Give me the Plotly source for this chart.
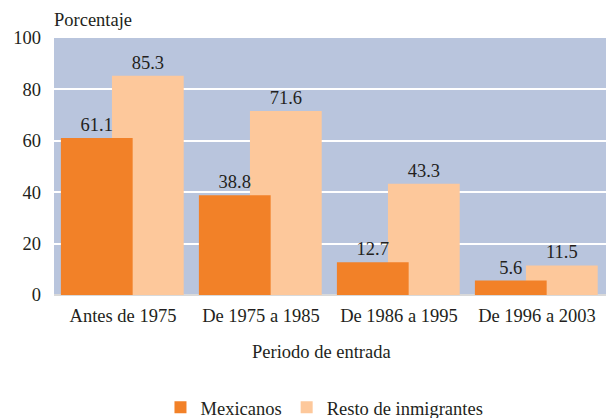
import plotly.graph_objects as go

categories = ["Antes de 1975", "De 1975 a 1985", "De 1986 a 1995", "De 1996 a 2003"]
mexicanos = [61.1, 38.8, 12.7, 5.6]
resto = [85.3, 71.6, 43.3, 11.5]
y_ticks = [0, 20, 40, 60, 80, 100]

FONT = "Liberation Serif"
FS = 18.5
ORANGE = "#f28128"
PEACH = "#fdc89b"
BG = "#b9c5dd"
TXT = "#231f20"

x = list(range(len(categories)))

fig = go.Figure()
fig.add_trace(go.Bar(
    x=x, y=resto, name="Resto de inmigrantes",
    marker=dict(color=PEACH, line=dict(width=0)),
    width=0.52, offset=-0.08,
    text=[f"{v:.1f}" for v in resto], textposition="outside",
    textfont=dict(family=FONT, size=FS, color=TXT),
    cliponaxis=False, legendrank=2,
))
fig.add_trace(go.Bar(
    x=x, y=mexicanos, name="Mexicanos",
    marker=dict(color=ORANGE, line=dict(width=0)),
    width=0.52, offset=-0.45,
    text=[f"{v:.1f}" for v in mexicanos], textposition="outside",
    textfont=dict(family=FONT, size=FS, color=TXT),
    cliponaxis=False, legendrank=1,
))

# page body has an 8px default margin, so the figure is sized to fit in the rest
fig.update_layout(
    width=607, height=410,
    margin=dict(l=46, r=9, t=30, b=123, autoexpand=False),
    barmode="overlay",
    plot_bgcolor=BG, paper_bgcolor="white",
    font=dict(family=FONT, size=FS, color=TXT),
    showlegend=True,
    legend=dict(orientation="h", x=0.49, xanchor="center", y=-0.365, yanchor="top",
                font=dict(family=FONT, size=FS, color=TXT), tracegroupgap=0),
)
fig.update_xaxes(
    tickmode="array", tickvals=x, ticktext=categories,
    range=[-0.5, len(categories) - 0.5], automargin=False,
    showgrid=False, zeroline=False, showline=False, ticks="",
    ticklabelstandoff=7,
    tickfont=dict(family=FONT, size=FS, color=TXT),
)
fig.update_yaxes(
    range=[0, 100], tickmode="array", tickvals=y_ticks, automargin=False,
    showgrid=True, gridcolor="white", gridwidth=1.5,
    zeroline=True, zerolinecolor="#d9d9d9", zerolinewidth=2,
    showline=False, ticks="", ticklabelstandoff=12,
    tickfont=dict(family=FONT, size=FS, color=TXT),
)
fig.add_annotation(text="Porcentaje", xref="paper", yref="paper", x=0, y=1,
                   xanchor="left", yanchor="bottom", yshift=6, xshift=-2,
                   showarrow=False, font=dict(family=FONT, size=FS, color=TXT))
fig.add_annotation(text="Periodo de entrada", xref="paper", yref="paper", x=0.4855, y=-0.222,
                   xanchor="center", yanchor="middle",
                   showarrow=False, font=dict(family=FONT, size=FS, color=TXT))

fig.write_html("out.html")
